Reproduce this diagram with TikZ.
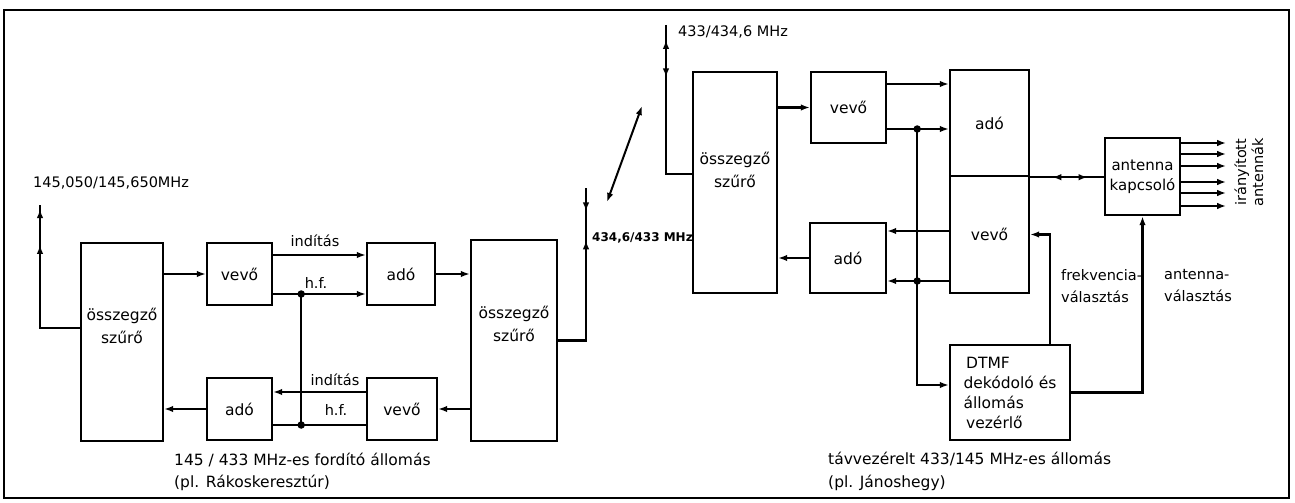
\documentclass[tikz,border=0pt]{standalone}
\usepackage{fontspec}
\setmainfont{DejaVu Sans}
\usetikzlibrary{arrows.meta,decorations.markings,calc}
\begin{document}
\begin{tikzpicture}[x=1pt,y=-1pt,
  line width=2.4pt,
  >={Latex[length=9pt,width=6.5pt]},
  blk/.style={draw,rectangle,inner sep=0pt,font=\fontsize{15.5}{20}\selectfont},
  boxlbl/.style={font=\fontsize{15.5}{23}\selectfont,align=center,inner sep=0pt},
  lbl/.style={font=\fontsize{14.5}{22}\selectfont,inner sep=0pt},
  captxt/.style={font=\fontsize{15.5}{22.5}\selectfont,inner sep=0pt,align=left,anchor=west},
  dot/.style={circle,fill,inner sep=0pt,minimum size=7.5pt},
  twomarks/.style n args={4}{decoration={markings,
      mark=at position #1 with {#2},
      mark=at position #3 with {#4}},postaction={decorate}},
]
\useasboundingbox (0,0) rectangle (1295,503);
\draw[line width=1.6pt] (4,10) rectangle (1289,498);

% ---------- left station ----------
\node[blk,minimum width=82,minimum height=198,
      label={[boxlbl,yshift=16]center:összegző\\szűrő}] (S1) at (122,342) {};
\node[blk,minimum width=65,minimum height=62] (V1) at (239.5,274) {vevő};
\node[blk,minimum width=68,minimum height=62] (A1) at (401,274) {adó};
\node[blk,minimum width=65,minimum height=62] (A2) at (239.5,409) {adó};
\node[blk,minimum width=70,minimum height=62] (V2) at (402,409) {vevő};
\node[blk,minimum width=86,minimum height=201,
      label={[boxlbl,yshift=16.5]center:összegző\\szűrő}] (S2) at (514,340.5) {};

\draw[->] (S1.east |- V1.west) -- (V1.west);
\draw[->] ([yshift=19]V1.east) coordinate (v1a) -- (A1.west |- v1a);
\draw[->] ([yshift=-20]V1.east) coordinate (v1b) -- (A1.west |- v1b);
\draw[->] ([yshift=17]V2.west) coordinate (v2a) -- (A2.east |- v2a);
\draw ([yshift=-16]V2.west) coordinate (v2b) -- (A2.east |- v2b);
\coordinate (j1) at ($(v1b)+(28,0)$);
\coordinate (j2) at (j1 |- v2b);
\draw (j1) -- (j2);
\node[dot] (dj1) at (j1) {};
\node[dot] (dj2) at (j2) {};
\draw[->] (A1.east) -- (S2.west |- A1.east);
\draw[->] (S2.west |- V2.east) -- (V2.east);
\draw[->] (A2.west) -- (S1.east |- A2.west);

\node[lbl] (ind1) at (315,241) {indítás};
\node[lbl] (hf1) at (316,283) {h.f.};
\node[lbl] (ind2) at (335,380) {indítás};
\node[lbl] (hf2) at (336,410) {h.f.};

% left antenna
\coordinate (antL) at (40,205);
\draw[twomarks={0.025}{\arrowreversed{>}}{0.245}{\arrowreversed{>}}] (antL) |- ([yshift=14]S1.west);
\node[lbl,anchor=west] (fL) at (32,183) {145,050/145,650MHz};

% middle antenna
\coordinate (ant2) at (586,188);
\draw[twomarks={0.71}{\arrow{>}}{0.87}{\arrowreversed{>}}] (S2.east) -| (ant2);
\node[font=\fontsize{12}{14}\selectfont\bfseries,inner sep=0pt,anchor=west] (f2) at (591,238) {434,6/433 MHz};
\coordinate (d1) at (607,202);
\coordinate (d2) at (642,106);
\draw[<->,line width=2pt] (d1) -- (d2);

% ---------- right station ----------
\node[blk,minimum width=84,minimum height=221,
      label={[boxlbl,yshift=13]center:összegző\\szűrő}] (S3) at (735,182.5) {};
\node[blk,minimum width=75,minimum height=71] (V3) at (848.5,107.5) {vevő};
\node[blk,minimum width=79,minimum height=106] (adoR) at (989.5,123) {adó};
\node[blk,minimum width=79,minimum height=117] (vevoR) at (989.5,234.5) {vevő};
\node[blk,minimum width=76,minimum height=70] (A3) at (848,258) {adó};
\node[blk,minimum width=120,minimum height=95,align=left] (DTMF) at (1010,392.5)
     {\,DTMF\\dekódoló és\\állomás\\\,vezérlő};
\node[blk,minimum width=75,minimum height=77,align=center,font=\fontsize{15}{20}\selectfont] (AK) at (1142.5,176.5)
     {antenna\\kapcsoló};

\coordinate (ant3) at (666,25);
\draw[twomarks={0.085}{\arrowreversed{>}}{0.3}{\arrow{>}}] (ant3) |- ([yshift=8.5]S3.west);
\node[lbl,anchor=west] (f3) at (677,32) {433/434,6 MHz};

\draw[->] (S3.east |- V3.west) -- (V3.west);
\draw[->] ([yshift=23.5]V3.east) coordinate (v3a) -- (adoR.west |- v3a);
\draw[->] ([yshift=-21.5]V3.east) coordinate (v3b) -- (adoR.west |- v3b);
\coordinate (a3a) at ([yshift=27]A3.east);
\coordinate (a3b) at ([yshift=-23]A3.east);
\draw[->] (vevoR.west |- a3a) -- (a3a);
\draw[->] (vevoR.west |- a3b) -- (a3b);
\coordinate (j3) at ($(v3b)+(30,0)$);
\coordinate (j4) at (j3 |- a3b);
\draw[->] (j3) |- ([yshift=7.5]DTMF.west);
\node[dot] (dj3) at (j3) {};
\node[dot] (dj4) at (j4) {};
\draw[->] (A3.west) -- (S3.east |- A3.west);
\draw[->] ([xshift=40]DTMF.north) |- (vevoR.east);
\draw[->] (DTMF.east) -| (AK.south);
\draw[twomarks={0.3}{\arrowreversed{>}}{0.78}{\arrow{>}}] (adoR.south east) -- (AK.west |- adoR.south east);
\foreach \dy in {33.5,22.5,10.5,-5.5,-16.5,-29.5}
  \draw[->] ([yshift=\dy]AK.east) -- ++(45,0);

\node[lbl,align=left,anchor=west] (lf) at (1060,286) {frekvencia-\\választás};
\node[lbl,align=left,anchor=west] (la) at (1163,286) {antenna-\\választás};
\node[font=\fontsize{14.5}{17}\selectfont,inner sep=0pt,rotate=90,align=center] (irany) at (1249,172) {irányított\\antennák};

% captions
\node[captxt] (bl) at (173,472) {145 / 433 MHz-es fordító állomás\\(pl. Rákoskeresztúr)};
\node[captxt] (br) at (827,471.5) {távvezérelt 433/145 MHz-es állomás\\(pl. Jánoshegy)};
\end{tikzpicture}
\end{document}
